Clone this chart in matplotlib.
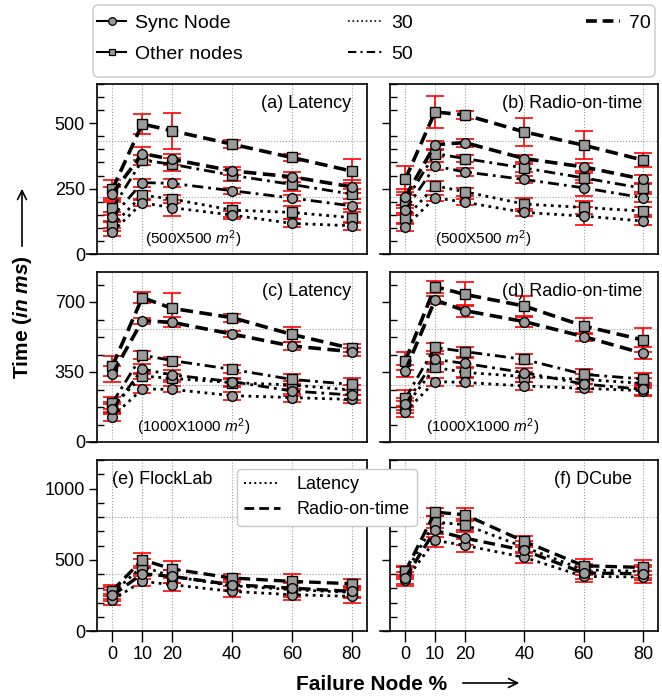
import matplotlib
matplotlib.use('Agg')
import matplotlib.pyplot as plt
from matplotlib.lines import Line2D
from matplotlib.patches import FancyArrowPatch, FancyBboxPatch
from matplotlib.ticker import MultipleLocator, FixedLocator

plt.rcParams['font.family'] = ['Liberation Sans', 'DejaVu Sans']
plt.rcParams['mathtext.fontset'] = 'custom'
plt.rcParams['mathtext.rm'] = 'Liberation Sans'
plt.rcParams['mathtext.it'] = 'Liberation Sans:italic'
plt.rcParams['mathtext.bf'] = 'Liberation Sans:bold'
HAS_BFIT = True
try:
    plt.rcParams['mathtext.bfit'] = 'Liberation Sans:italic:bold'
except Exception:
    HAS_BFIT = False

# ---------------- data ----------------
x_fail = [0, 10, 20, 40, 60, 80]
x_ticks = [0, 10, 20, 40, 60, 80]
levels = ['30', '50', '70']

# (a) Latency 500x500  rows: 30, 50, 70
a_sync = [[85, 196, 177, 149, 117, 108], [142, 273, 270, 242, 214, 184], [231, 384, 362, 318, 295, 257]]
a_other = [[108, 225, 210, 168, 159, 139], [174, 359, 343, 301, 266, 229], [248, 497, 471, 420, 369, 317]]
a_sync_err = [[15, 12, 30, 15, 15, 15], [20, 15, 15, 12, 12, 12], [25, 25, 20, 15, 20, 25]]
a_other_err = [[20, 15, 15, 28, 25, 20], [25, 20, 25, 20, 25, 20], [35, 38, 70, 15, 15, 45]]

# (b) Radio-on-time 500x500
b_sync = [[104, 215, 198, 159, 145, 126], [168, 336, 314, 285, 253, 215], [219, 418, 426, 365, 333, 286]]
b_other = [[136, 261, 238, 191, 178, 164], [200, 384, 365, 329, 291, 251], [286, 543, 532, 467, 416, 359]]
b_sync_err = [[15, 12, 12, 12, 35, 15], [20, 15, 15, 15, 30, 15], [30, 15, 15, 15, 15, 15]]
b_other_err = [[20, 20, 15, 25, 25, 15], [25, 15, 15, 15, 20, 15], [50, 60, 15, 53, 54, 28]]

# (c) Latency 1000x1000
c_sync = [[127, 265, 263, 232, 222, 213], [163, 365, 335, 302, 255, 235], [340, 607, 598, 540, 480, 452]]
c_other = [[177, 330, 318, 297, 285, 260], [197, 435, 407, 363, 313, 288], [380, 722, 668, 622, 538, 468]]
c_sync_err = [[20, 20, 15, 20, 20, 20], [25, 25, 25, 20, 25, 25], [40, 15, 25, 15, 20, 20]]
c_other_err = [[25, 15, 20, 20, 20, 25], [30, 20, 20, 20, 25, 30], [50, 27, 75, 20, 37, 20]]

# (d) Radio-on-time 1000x1000
d_sync = [[152, 302, 298, 280, 268, 257], [188, 413, 393, 347, 290, 263], [355, 710, 657, 602, 527, 443]]
d_other = [[177, 373, 348, 327, 313, 293], [218, 473, 452, 413, 338, 315], [405, 777, 738, 680, 580, 510]]
d_sync_err = [[25, 20, 20, 20, 20, 25], [30, 25, 25, 25, 25, 30], [30, 20, 30, 25, 20, 30]]
d_other_err = [[30, 25, 25, 25, 25, 25], [40, 20, 25, 25, 25, 30], [45, 30, 60, 50, 40, 60]]

# (e) FlockLab  rows: Latency, Radio-on-time
e_sync = [[220, 348, 325, 278, 255, 243], [250, 402, 383, 325, 301, 278]]
e_other = [[266, 453, 383, 318, 290, 271], [283, 500, 435, 372, 348, 332]]
e_sync_err = [[40, 35, 45, 40, 40, 45], [40, 40, 45, 40, 45, 40]]
e_other_err = [[40, 50, 45, 40, 50, 40], [40, 45, 55, 30, 55, 30]]

# (f) DCube
f_sync = [[355, 636, 601, 517, 383, 379], [372, 706, 652, 566, 407, 402]]
f_other = [[407, 764, 746, 589, 430, 418], [418, 834, 816, 629, 458, 446]]
f_sync_err = [[40, 45, 45, 40, 40, 45], [40, 45, 45, 40, 40, 45]]
f_other_err = [[40, 40, 40, 40, 40, 45], [40, 30, 45, 40, 45, 50]]

panel_titles = ['(a) Latency', '(b) Radio-on-time', '(c) Latency', '(d) Radio-on-time',
                '(e) FlockLab', '(f) DCube']
area_labels = ['(500X500 $m^2$)', '(500X500 $m^2$)', '(1000X1000 $m^2$)', '(1000X1000 $m^2$)']

# ---------------- layout ----------------
W, H = 662, 696
fig = plt.figure(figsize=(W / 100, H / 100), dpi=100)


def rect(x0, x1, yt, yb):
    return [x0 / W, 1 - yb / H, (x1 - x0) / W, (yb - yt) / H]


cols = [(87, 366.5), (380, 658)]
rows = [(84, 254), (272, 442), (460, 631)]
ylims = [650, 850, 1200]
ymajor = [250, 350, 500]
yminor = [50, 87.5, 100]
XLIM = (-8.5, 85)
SPINE_X = -5

MFC = '#9b9b9b'
three_styles = [dict(ls=':', lw=2.0), dict(ls=(0, (4, 1.8, 1, 1.8)), lw=2.0), dict(ls=(0, (3.5, 1.8)), lw=2.6)]
two_styles = [dict(ls=':', lw=2.0), dict(ls=(0, (3.5, 1.8)), lw=2.4)]


def series(ax, ys, errs, style, marker):
    ax.errorbar(x_fail, ys, yerr=errs, fmt='none', ecolor='red', elinewidth=1.2,
                capsize=6.5, capthick=1.2, zorder=2)
    ms = 7 if marker == 'o' else 6.5
    ax.plot(x_fail, ys, color='k', marker=marker, ms=ms, mfc=MFC, mec='k', mew=1.0,
            zorder=3, **style)


panels = [
    (a_sync, a_other, a_sync_err, a_other_err, three_styles),
    (b_sync, b_other, b_sync_err, b_other_err, three_styles),
    (c_sync, c_other, c_sync_err, c_other_err, three_styles),
    (d_sync, d_other, d_sync_err, d_other_err, three_styles),
    (e_sync, e_other, e_sync_err, e_other_err, two_styles),
    (f_sync, f_other, f_sync_err, f_other_err, two_styles),
]

for i, (sync, other, serr, oerr, styles) in enumerate(panels):
    r, c = divmod(i, 2)
    ax = fig.add_axes(rect(cols[c][0], cols[c][1], rows[r][0], rows[r][1]))
    ax.set_xlim(*XLIM)
    ax.set_ylim(0, ylims[r])
    for k in range(len(sync)):
        series(ax, other[k], oerr[k], styles[k], 's')
        series(ax, sync[k], serr[k], styles[k], 'o')

    # spines
    ax.spines['left'].set_position(('data', SPINE_X))
    ax.spines['top'].set_bounds(SPINE_X, XLIM[1])
    for s in ax.spines.values():
        s.set_linewidth(1.2)

    # ticks
    ax.xaxis.set_major_locator(FixedLocator(x_ticks))
    ax.yaxis.set_major_locator(MultipleLocator(ymajor[r]))
    ax.yaxis.set_minor_locator(MultipleLocator(yminor[r]))
    ax.tick_params(axis='y', which='major', direction='out', length=6, width=1, labelsize=13, pad=3)
    ax.tick_params(axis='y', which='minor', direction='in', length=5, width=1)
    if r == 2:
        ax.tick_params(axis='x', direction='out', length=8, width=1, labelsize=13, pad=3)
    else:
        ax.tick_params(axis='x', length=0, labelbottom=False)
    if c == 1:
        ax.tick_params(axis='y', which='both', labelleft=False)

    # grid
    ax.grid(axis='x', ls=':', color='#9a9a9a', lw=0.8)
    frac0 = (SPINE_X - XLIM[0]) / (XLIM[1] - XLIM[0])
    for f in (1 / 3, 2 / 3):
        ax.axhline(ylims[r] * f, xmin=frac0, xmax=1, ls=':', color='#9a9a9a', lw=0.8, zorder=0.5)
    ax.set_axisbelow(True)

    # titles
    if i < 4:
        ax.text(0.945, 0.885, panel_titles[i], transform=ax.transAxes, ha='right', va='center', fontsize=13)
        ax.text(0.38 if c == 0 else 0.37, 0.09, area_labels[i], transform=ax.transAxes,
                ha='center', va='center', fontsize=11)
    elif i == 4:
        ax.text(0.09, 0.885, panel_titles[i], transform=ax.transAxes, ha='left', va='center', fontsize=13)
    else:
        ax.text(0.905, 0.885, panel_titles[i], transform=ax.transAxes, ha='right', va='center', fontsize=13)

# ---------------- top legend (frame + three columns) ----------------
frame = FancyBboxPatch((93 / W, 1 - 77 / H), (655 - 93) / W, (77 - 5) / H,
                       boxstyle='round,pad=0,rounding_size=0.008', transform=fig.transFigure,
                       facecolor='white', edgecolor='#c8c8c8', lw=1.0, zorder=4)
fig.patches.append(frame)

mk = dict(mfc=MFC, mec='k', mew=0.9)
col_handles = [
    [Line2D([], [], color='k', lw=1.5, marker='o', ms=5.5, **mk),
     Line2D([], [], color='k', lw=1.5, marker='s', ms=5, **mk)],
    [Line2D([], [], color='k', lw=1.2, ls=':'),
     Line2D([], [], color='k', lw=1.5, ls=(0, (4, 2, 1, 2)))],
    [Line2D([], [], color='k', lw=2.6, ls=(0, (3, 1.6)))],
]
col_labels = [['Sync Node', 'Other nodes'], [levels[0], levels[1]], [levels[2]]]
col_x = [97, 348, 586]
col_hl = [1.5, 1.75, 1.75]
for hs, ls_, xx, hl in zip(col_handles, col_labels, col_x, col_hl):
    lg = fig.legend(hs, ls_, loc='upper left', bbox_to_anchor=(xx / W, 1 - 14 / H),
                    borderaxespad=0, borderpad=0, fontsize=14, handlelength=hl,
                    handletextpad=0.45, labelspacing=0.72, frameon=False)
    lg.set_zorder(5)

mid_handles = [Line2D([], [], color='k', lw=1.4, ls=':'),
               Line2D([], [], color='k', lw=2.0, ls=(0, (3.5, 1.8)))]
leg2 = fig.legend(mid_handles, ['Latency', 'Radio-on-time'], loc='upper left',
                  bbox_to_anchor=(237 / W, 1 - 469 / H), borderaxespad=0, fontsize=13,
                  handlelength=2.0, handletextpad=0.9, labelspacing=0.45, borderpad=0.4,
                  frameon=True, fancybox=True, framealpha=1)
leg2.get_frame().set_edgecolor('#c8c8c8')
leg2.get_frame().set_linewidth(1.0)

# ---------------- axis labels ----------------
if HAS_BFIT:
    ylab = r'$\mathbf{Time\ (}\mathbfit{in\ ms}\mathbf{)}$'
    fig.text(22 / W, 1 - 317 / H, ylab, rotation=90, ha='center', va='center', fontsize=15)
else:
    fig.text(22 / W, 1 - 317 / H, 'Time (in ms)', rotation=90, ha='center', va='center',
             fontsize=15, fontweight='bold')
fig.text(372 / W, 1 - 684 / H, 'Failure Node %', ha='center', va='center', fontsize=15,
         fontweight='bold')

arr1 = FancyArrowPatch((22 / W, 1 - 249 / H), (22 / W, 1 - 186 / H), transform=fig.transFigure,
                       arrowstyle='->', mutation_scale=16, lw=1.2, color='k')
arr2 = FancyArrowPatch((460 / W, 1 - 683 / H), (522 / W, 1 - 683 / H), transform=fig.transFigure,
                       arrowstyle='->', mutation_scale=16, lw=1.2, color='k')
fig.add_artist(arr1)
fig.add_artist(arr2)

fig.savefig('out.png', dpi=100)
